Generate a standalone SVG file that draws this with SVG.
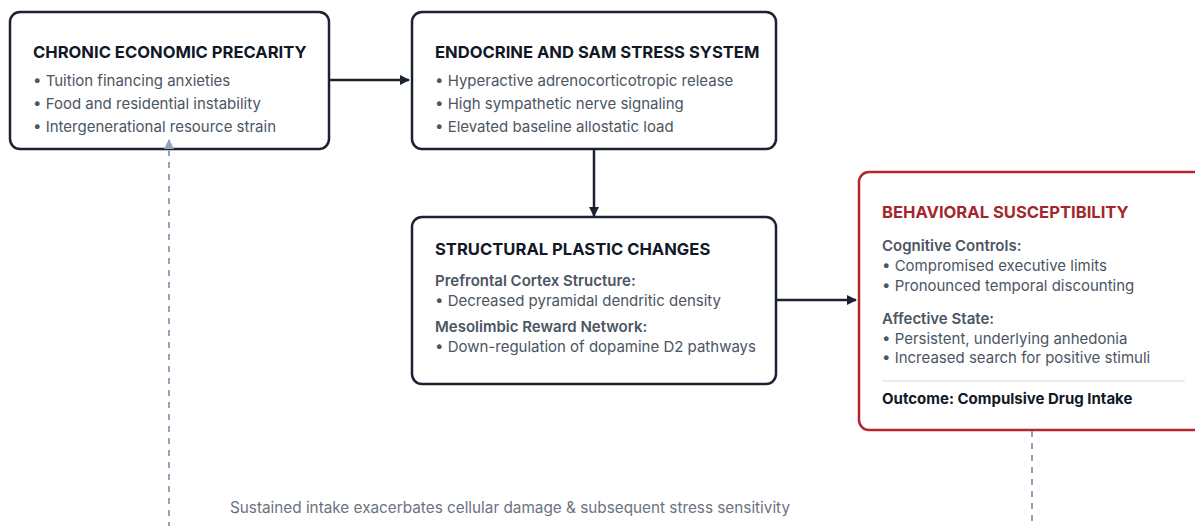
<svg xmlns="http://www.w3.org/2000/svg" width="1195" height="526" viewBox="0 0 1195 526">
<defs>
<marker id="ah" viewBox="0 0 10 10" refX="9" refY="5" markerWidth="10" markerHeight="10" markerUnits="userSpaceOnUse" orient="auto"><path d="M0,0 L10,5 L0,10 z" fill="#1a2233"/></marker>
<marker id="ahg" viewBox="0 0 10 10" refX="9" refY="5" markerWidth="10" markerHeight="10" markerUnits="userSpaceOnUse" orient="auto"><path d="M0,0 L10,5 L0,10 z" fill="#94a3b8"/></marker>
</defs>
<style>
text{font-family:Inter,"Liberation Sans",sans-serif}
.box{fill:#fff;stroke:#1a2233;stroke-width:2.5}
.red{fill:#fff;stroke:#b3262d;stroke-width:2.5}
.t{font-size:16.6px;font-weight:700;fill:#111827}
.tr{font-size:16.6px;font-weight:700;fill:#a4262c}
.b{font-size:15px;fill:#4b5563}
.s{font-size:15px;font-weight:600;fill:#4b5563}
.o{font-size:15px;font-weight:700;fill:#111827}
.c{stroke:#1a2233;stroke-width:2.5;fill:none}
.d{stroke:#94a3b8;stroke-width:2;stroke-dasharray:6 6;fill:none}
</style>
<rect width="1195" height="526" fill="#fff"/>
<g id="node-precarity">
<rect class="box" x="10" y="12" width="319" height="137" rx="10"/>
<text class="t" x="33" y="58">CHRONIC ECONOMIC PRECARITY</text>
<text class="b" x="33" y="86">• Tuition financing anxieties</text>
<text class="b" x="33" y="109">• Food and residential instability</text>
<text class="b" x="33" y="132">• Intergenerational resource strain</text>
</g>
<g id="node-endocrine">
<rect class="box" x="412" y="12" width="364" height="137" rx="10"/>
<text class="t" x="435" y="58">ENDOCRINE AND SAM STRESS SYSTEM</text>
<text class="b" x="435" y="86">• Hyperactive adrenocorticotropic release</text>
<text class="b" x="435" y="109">• High sympathetic nerve signaling</text>
<text class="b" x="435" y="132">• Elevated baseline allostatic load</text>
</g>
<g id="node-structural">
<rect class="box" x="412" y="217" width="364" height="167" rx="10"/>
<text class="t" x="435" y="255">STRUCTURAL PLASTIC CHANGES</text>
<text class="s" x="435" y="286">Prefrontal Cortex Structure:</text>
<text class="b" x="435" y="306">• Decreased pyramidal dendritic density</text>
<text class="s" x="435" y="332">Mesolimbic Reward Network:</text>
<text class="b" x="435" y="352">• Down-regulation of dopamine D2 pathways</text>
</g>
<g id="node-behavioral">
<rect class="red" x="859" y="172" width="360" height="258" rx="10"/>
<text class="tr" x="882" y="218">BEHAVIORAL SUSCEPTIBILITY</text>
<text class="s" x="882" y="251">Cognitive Controls:</text>
<text class="b" x="882" y="271">• Compromised executive limits</text>
<text class="b" x="882" y="291">• Pronounced temporal discounting</text>
<text class="s" x="882" y="324">Affective State:</text>
<text class="b" x="882" y="344">• Persistent, underlying anhedonia</text>
<text class="b" x="882" y="363">• Increased search for positive stimuli</text>
<line x1="882" y1="381" x2="1185" y2="381" stroke="#e5e7eb" stroke-width="1.5"/>
<text class="o" x="882" y="404">Outcome: Compulsive Drug Intake</text>
</g>
<g id="connectors">
<line class="c" x1="330" y1="80" x2="409" y2="80" marker-end="url(#ah)"/>
<line class="c" x1="594" y1="150" x2="594" y2="216" marker-end="url(#ah)"/>
<line class="c" x1="777" y1="300" x2="856" y2="300" marker-end="url(#ah)"/>
<polyline class="d" points="1032,431 1032,540 169,540 169,140" marker-end="url(#ahg)"/>
<text x="510" y="513" text-anchor="middle" style="font-size:15.3px;fill:#6b7280">Sustained intake exacerbates cellular damage &amp; subsequent stress sensitivity</text>
</g>
</svg>
